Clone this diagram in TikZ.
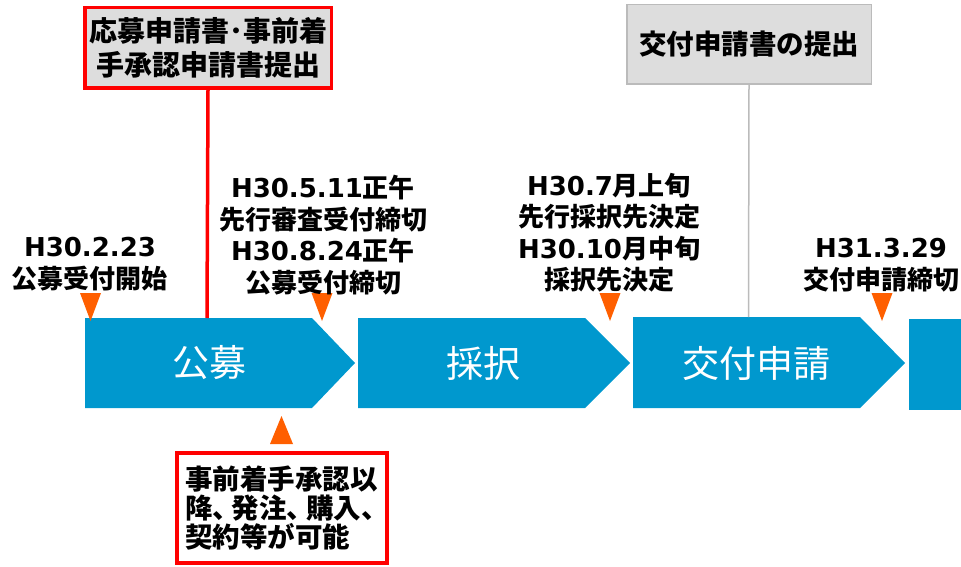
\documentclass[tikz,border=0pt]{standalone}
\usepackage{fontspec}
\setmainfont{Noto Sans CJK JP}
\newfontfamily\latf{DejaVu Sans}
\newcommand{\lat}[1]{{\latf\bfseries #1}}
\newcommand{\tten}{、\kern-.3em}
\definecolor{chevblue}{HTML}{0098CE}
\definecolor{trioran}{HTML}{FF5F00}
\definecolor{boxred}{HTML}{FF0000}
\definecolor{boxgray}{HTML}{DDDDDD}
\definecolor{linegray}{HTML}{BBBBBB}

\begin{document}
\begin{tikzpicture}[x=1pt,y=-1pt,
    chev/.style={fill=chevblue},
    chevtext/.style={text=white,font=\fontsize{37}{40}\selectfont},
    datelabel/.style={align=center,font=\bfseries\fontsize{26}{31.5}\selectfont},
    tri/.style={fill=trioran},
    redbox/.style={draw=boxred,line width=3.5pt,fill=boxgray,align=center,inner sep=0pt},
    graybox/.style={draw=linegray,line width=1.5pt,fill=boxgray,align=center,inner sep=0pt},
    notebox/.style={draw=boxred,line width=4pt,fill=white,align=left,inner sep=0pt}]

    \useasboundingbox (0,0) rectangle (961,567);

    % chevrons
    \fill[chev] (85,318) -- (312,318) -- (355,363) -- (312,408) -- (85,408) -- cycle;
    \node[chevtext] (kobo) at (209.5,363) {公募};
    \coordinate (kobo_top) at (207,318);

    \fill[chev] (358,318) -- (585,318) -- (630,363) -- (585,408) -- (358,408) -- cycle;
    \node[chevtext] (saitaku) at (483,363) {採択};

    \fill[chev] (633,317) -- (860,317) -- (905,363) -- (860,408) -- (633,408) -- cycle;
    \node[chevtext] (koufu) at (756.5,363) {交付申請};
    \coordinate (koufu_top) at (748.5,317);

    \fill[chev] (909,319) -- (980,319) -- (980,410) -- (909,410) -- cycle;

    % dates
    \fill[tri] (80,293) -- (101,293) -- (90.5,321) -- cycle;
    \fill[tri] (311.5,293) -- (332.5,293) -- (322,321) -- cycle;
    \fill[tri] (599.5,293) -- (620.5,293) -- (610,321) -- cycle;
    \fill[tri] (871.5,293) -- (892.5,293) -- (882,321) -- cycle;

    \node[datelabel] (start) at (90,264) {\lat{H30.2.23}\\公募受付開始};
    \node[datelabel] (close) at (323,235)
        {\lat{H30.5.11}正午\\先行審査受付締切\\\lat{H30.8.24}正午\\公募受付締切};
    \node[datelabel] (select) at (609,232.5)
        {\lat{H30.7}月上旬\\先行採択先決定\\\lat{H30.10}月中旬\\採択先決定};
    \node[datelabel] (deadline) at (881,265) {\lat{H31.3.29}\\交付申請締切};

    % boxes
    \node[redbox, minimum width=246.5pt, minimum height=80.5pt,
        font=\bfseries\fontsize{28}{34}\selectfont] (apply) at (208,48)
        {応募申請書･事前着\\手承認申請書提出};
    \draw[boxred, line width=3.5pt] (apply.south) -- (kobo_top);

    \node[graybox, minimum width=244.5pt, minimum height=79.5pt,
        font=\bfseries\fontsize{27.5}{33}\selectfont] (submit) at (749,44.5)
        {交付申請書の提出};
    \draw[linegray, line width=1.5pt] (submit.south) -- (koufu_top);

    \fill[tri] (270,444) -- (293,444) -- (281.5,416) -- cycle;
    \node[notebox, minimum width=210pt, minimum height=110pt, text width=194pt,
        font=\bfseries\fontsize{27.5}{29}\selectfont] (note) at (282,508)
        {事前着手承認以\\降\tten 発注\tten 購入\tten\\契約等が可能};

\end{tikzpicture}
\end{document}
